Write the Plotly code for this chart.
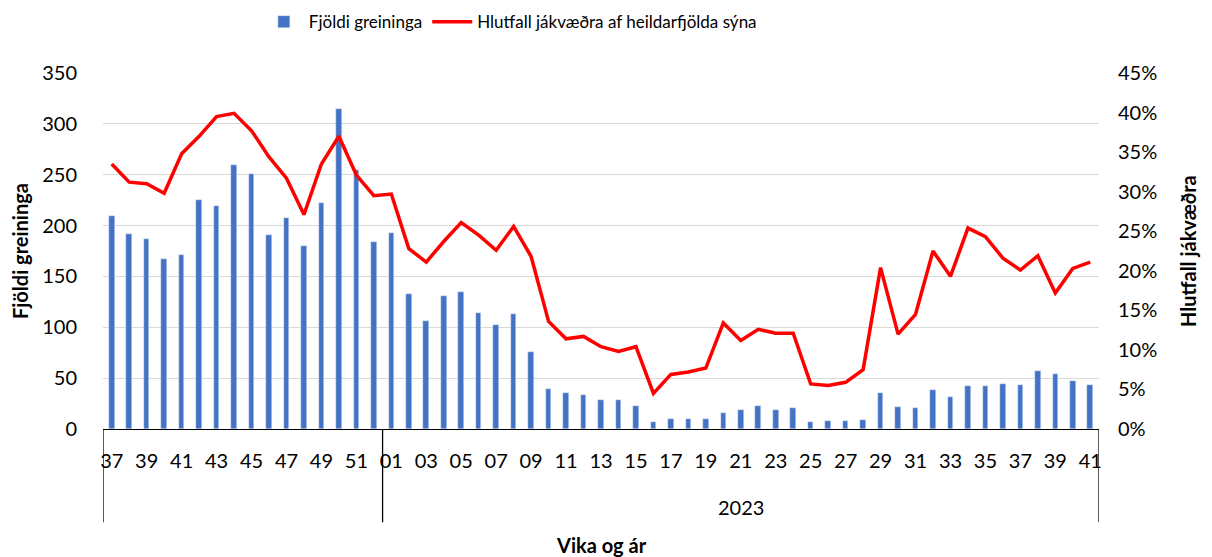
import plotly.graph_objects as go

weeks = ["37","38","39","40","41","42","43","44","45","46","47","48","49","50","51","52",
         "01","02","03","04","05","06","07","08","09","10","11","12","13","14","15","16","17","18","19","20",
         "21","22","23","24","25","26","27","28","29","30","31","32","33","34","35","36","37","38","39","40","41"]
years = ["2022"] * 16 + ["2023"] * 41
year_labels = {"2022": "", "2023": "2023"}

greiningar = [209, 192, 187, 167, 171, 225, 219, 260, 251, 191, 207, 180, 222, 315, 255, 184,
              193, 133, 106, 131, 135, 114, 102, 113, 76, 39, 35, 33, 29, 29, 23, 7, 10, 10, 10, 16,
              19, 23, 19, 21, 7, 8, 8, 9, 35, 22, 21, 38, 31, 42, 42, 44, 43, 57, 54, 47, 43]
hlutfall = [33.5, 31.2, 31.0, 29.8, 34.8, 37.0, 39.5, 39.9, 37.7, 34.4, 31.7, 27.1, 33.5, 37.0, 32.1, 29.5,
            29.7, 22.8, 21.1, 23.7, 26.1, 24.5, 22.6, 25.6, 21.8, 13.6, 11.4, 11.7, 10.4, 9.8, 10.4, 4.5, 6.9, 7.2, 7.7, 13.4,
            11.2, 12.6, 12.1, 12.1, 5.7, 5.5, 5.9, 7.5, 20.4, 12.0, 14.5, 22.5, 19.3, 25.4, 24.3, 21.6, 20.1, 21.9, 17.2, 20.3, 21.1]

idx = list(range(len(weeks)))
font = "Lato, 'Open Sans', sans-serif"

fig = go.Figure()
fig.add_trace(go.Bar(x=idx, y=greiningar, name="Fjöldi greininga", marker_color="#4472c4",
                     width=0.32, yaxis="y"))
fig.add_trace(go.Scatter(x=idx, y=[v / 100 for v in hlutfall], name="Hlutfall jákvæðra af heildarfjölda sýna",
                         mode="lines", line=dict(color="#ff0000", width=3.5), yaxis="y2"))

# group boundaries for the year row
bounds = [-0.5]
for i in range(1, len(years)):
    if years[i] != years[i - 1]:
        bounds.append(i - 0.5)
bounds.append(len(years) - 0.5)
order = []
for y in years:
    if y not in order:
        order.append(y)

shapes = []
for b in bounds:
    shapes.append(dict(type="line", xref="x", yref="paper", x0=b, x1=b, y0=0, y1=-0.262,
                       line=dict(color="black", width=1.3)))
annotations = []
for k, y in enumerate(order):
    mid = (bounds[k] + bounds[k + 1]) / 2
    annotations.append(dict(x=mid, xref="x", y=-0.219, yref="paper", text=year_labels[y], showarrow=False,
                            font=dict(size=20, color="#000", family=font), yanchor="middle"))
annotations.append(dict(x=0.5, xref="paper", y=-0.326, yref="paper", text="<b>Vika og ár</b>", showarrow=False,
                        font=dict(size=20, color="#000", family=font), yanchor="middle"))
annotations.append(dict(x=-0.0833, xref="paper", y=0.5, yref="paper", text="<b>Fjöldi greininga</b>",
                        showarrow=False, textangle=-90, font=dict(size=20, color="#000", family=font),
                        xanchor="center", yanchor="middle"))
annotations.append(dict(x=1.0894, xref="paper", y=0.5, yref="paper", text="<b>Hlutfall jákvæðra</b>",
                        showarrow=False, textangle=-90, font=dict(size=20, color="#000", family=font),
                        xanchor="center", yanchor="middle"))

fig.update_layout(
    width=1204, height=549,
    margin=dict(l=95, r=113, t=65, b=128, autoexpand=False),
    plot_bgcolor="white", paper_bgcolor="white",
    font=dict(family=font, size=20, color="#000"),
    bargap=0,
    showlegend=True,
    legend=dict(orientation="h", x=0.409, xanchor="center", y=1.143, yanchor="middle",
                font=dict(size=17, color="#000", family=font), itemwidth=40, traceorder="normal"),
    xaxis=dict(range=[-0.5, len(weeks) - 0.5], tickmode="array", tickvals=idx[::2], ticktext=weeks[::2],
               showline=True, linecolor="black", linewidth=1.3, ticks="", showgrid=False,
               tickfont=dict(size=20, color="#000"), zeroline=False, ticklabelstandoff=14),
    yaxis=dict(range=[0, 350], dtick=50, showgrid=True, gridcolor="#d9d9d9", gridwidth=1.3,
               zeroline=False, ticks="", tickfont=dict(size=20, color="#000"), ticklabelstandoff=25),
    yaxis2=dict(range=[0, 0.45], dtick=0.05, tickformat=".0%", overlaying="y", side="right",
                showgrid=False, zeroline=False, ticks="", tickfont=dict(size=20, color="#000"),
                ticklabelstandoff=18),
    shapes=shapes,
    annotations=annotations,
)

fig.write_html("out.html")
